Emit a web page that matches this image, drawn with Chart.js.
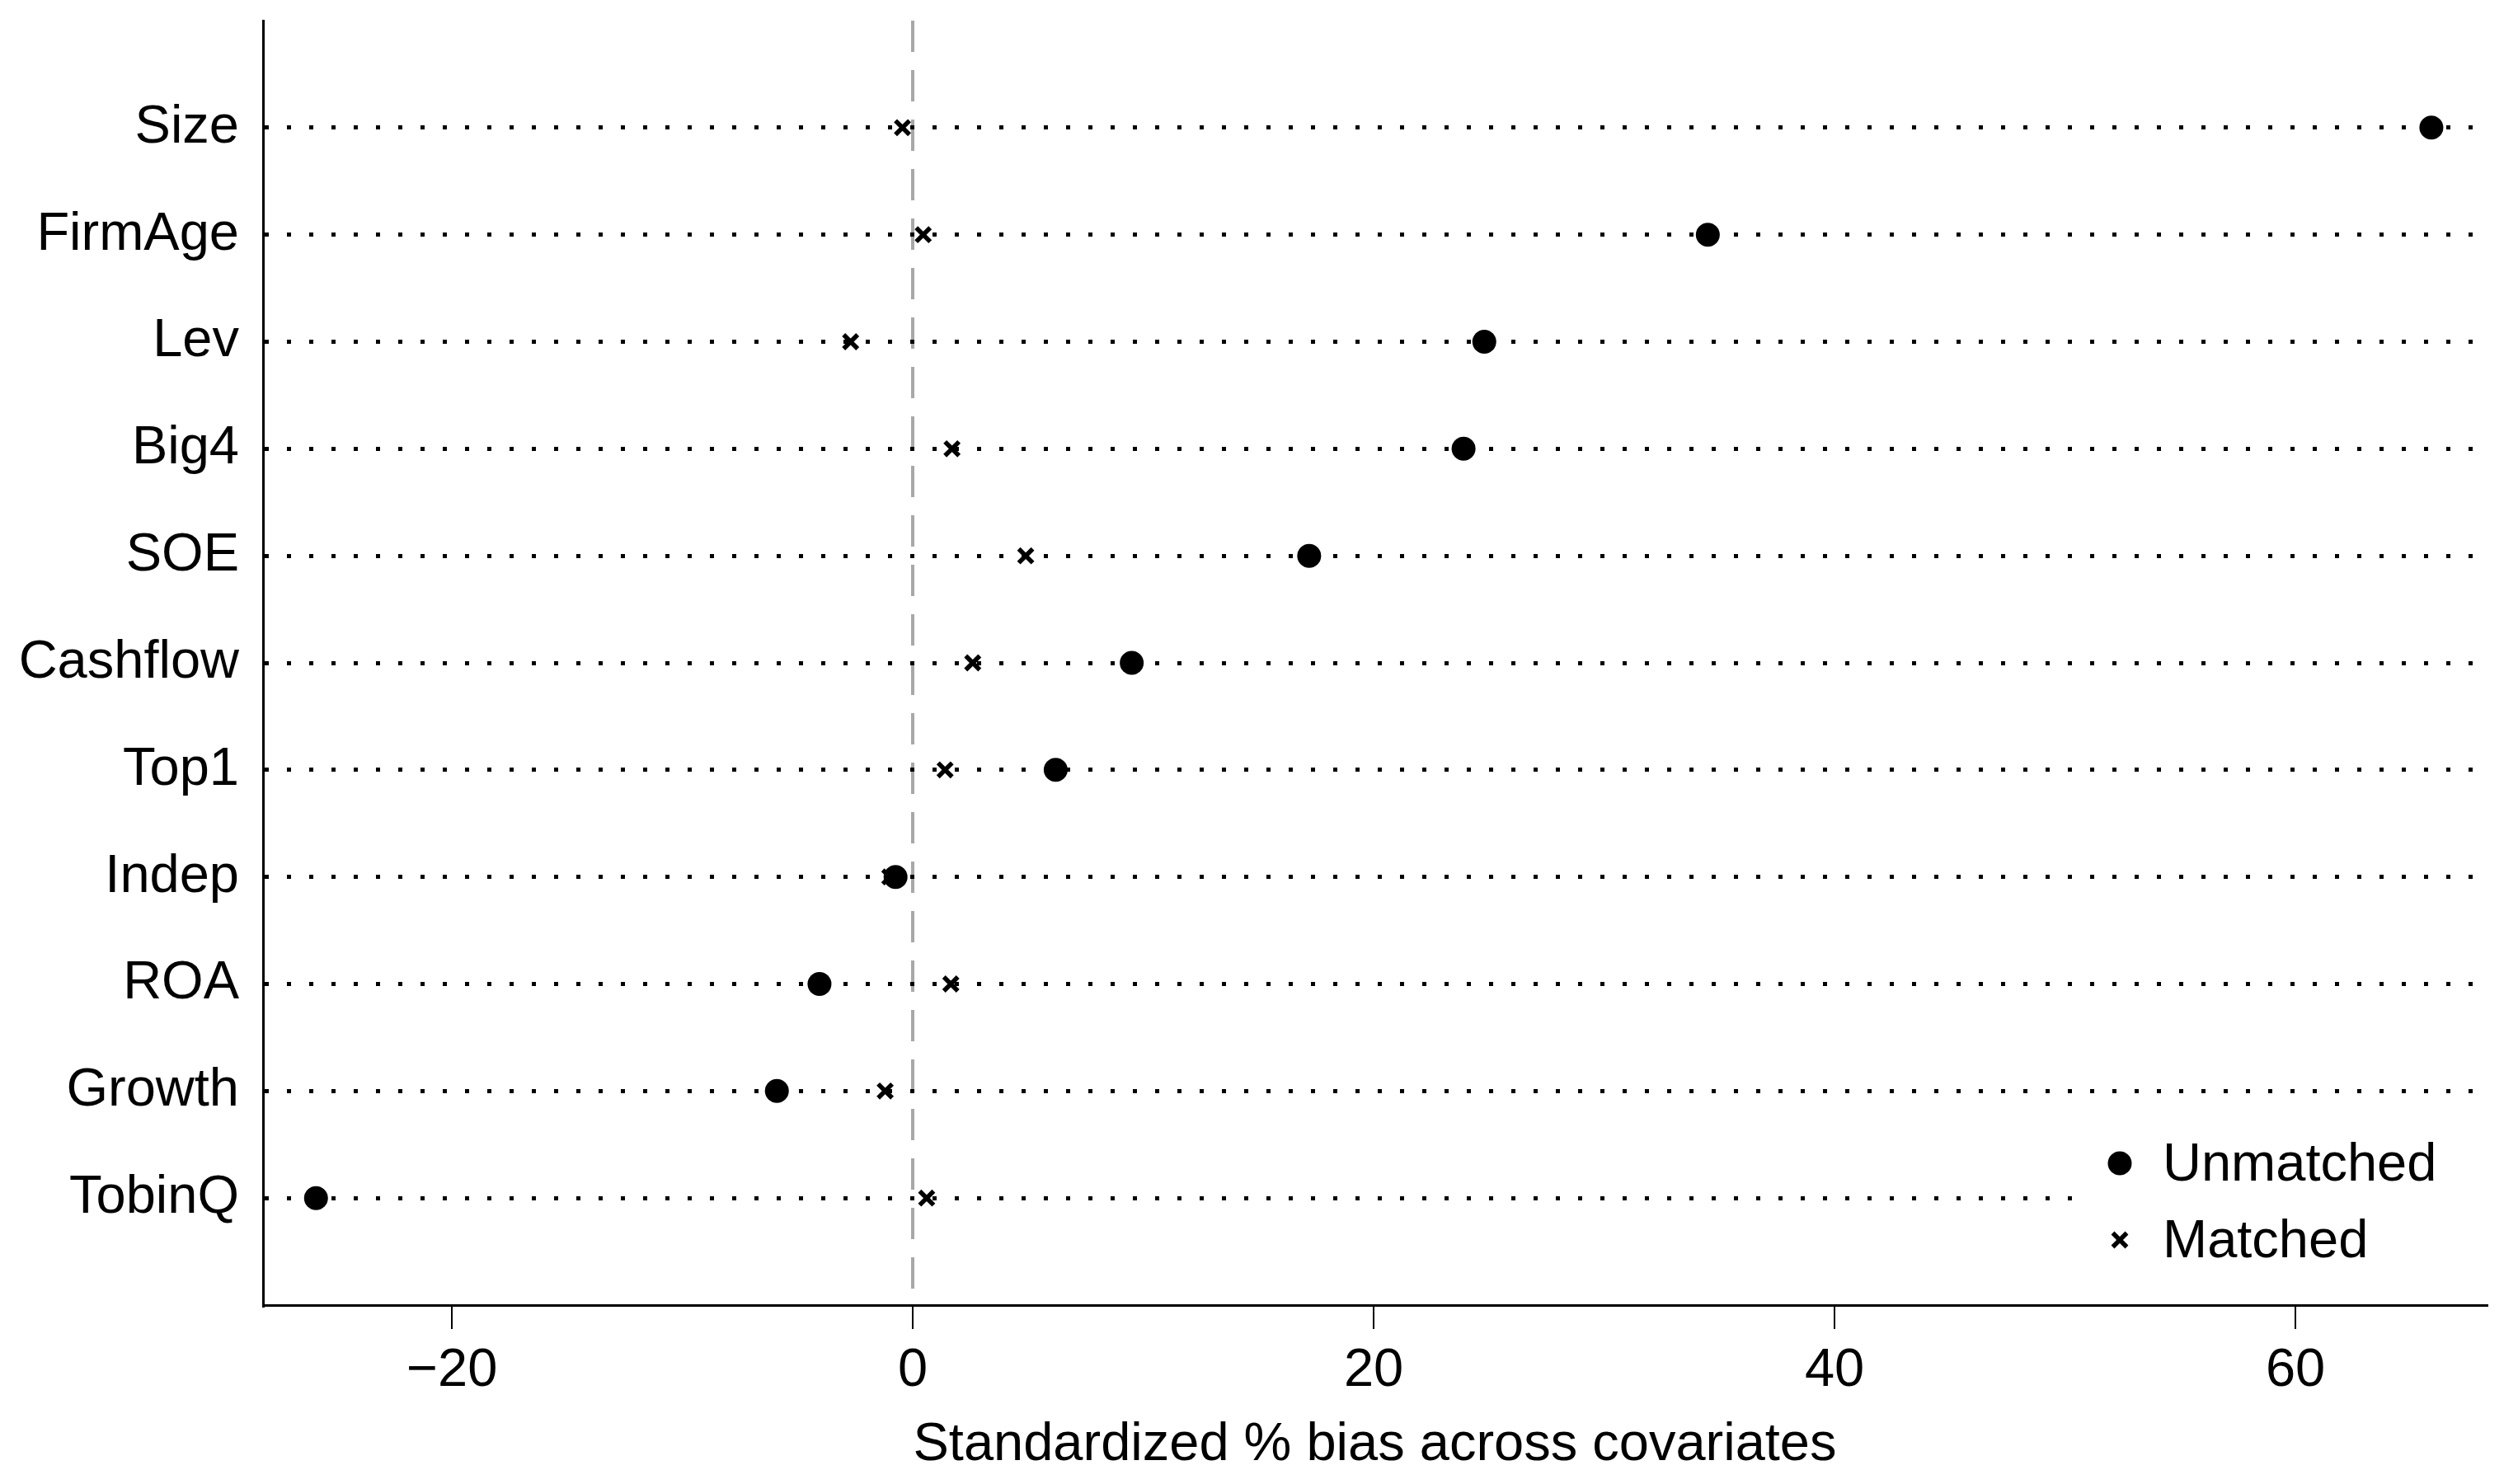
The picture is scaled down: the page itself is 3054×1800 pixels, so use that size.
<!DOCTYPE html>
<html>
<head>
<meta charset="utf-8">
<title>Standardized % bias across covariates</title>
<script src="https://cdn.jsdelivr.net/npm/chart.js"></script>
<style>
body{ margin:0; background:#fff; }
.canvas_div{
    width: 3054px;
    height: 1800px;
}
</style>
</head>
<body>
<div class="canvas_div">
    <canvas id="myChart"></canvas>
</div>
<script>
const covariates = ["Size","FirmAge","Lev","Big4","SOE","Cashflow","Top1","Indep","ROA","Growth","TobinQ"];
const unmatched = [65.9, 34.5, 24.8, 23.9, 17.2, 9.5, 6.2, -0.75, -4.05, -5.9, -25.9];
const matched   = [-0.45, 0.45, -2.7, 1.7, 4.9, 2.6, 1.4, -1.0, 1.65, -1.2, 0.6];
const xTicks = [-20, 0, 20, 40, 60];

const FONT = "'Liberation Sans', Arial, sans-serif";

function toPoints(vals){
    return vals.map(function(v, i){ return {x: v, y: i + 1}; });
}

// legend drawn inside the plot, bottom right
const insideLegend = {
    id: 'insideLegend',
    afterDatasetsDraw: function(chart){
        const ctx = chart.ctx;
        const area = chart.chartArea;
        const left = area.right - 496, top = area.bottom - 238;
        ctx.save();
        ctx.fillStyle = '#fff';
        ctx.fillRect(left, top, 485, 210);
        ctx.font = '65px ' + FONT;
        ctx.textBaseline = 'middle';
        chart.data.datasets.slice().reverse().forEach(function(ds, i){
            const cy = top + 66 + i * 93;
            const cx = left + 51;
            const opts = {pointStyle: ds.pointStyle, radius: ds.pointRadius, borderWidth: ds.borderWidth, rotation: 0};
            ctx.fillStyle = ds.backgroundColor;
            ctx.strokeStyle = ds.borderColor;
            ctx.lineWidth = ds.borderWidth;
            Chart.helpers.drawPoint(ctx, opts, cx, cy);
            ctx.fillStyle = '#000';
            ctx.fillText(ds.label, left + 103, cy + 3);
        });
        ctx.restore();
    }
};

const config = {
    type: 'scatter',
    data: {
        datasets: [
            {
                label: 'Matched',
                data: toPoints(matched),
                pointStyle: 'crossRot',
                pointRadius: 12,
                borderWidth: 5.5,
                borderColor: '#000',
                backgroundColor: '#000'
            },
            {
                label: 'Unmatched',
                data: toPoints(unmatched),
                pointStyle: 'circle',
                pointRadius: 14.5,
                borderWidth: 0,
                borderColor: '#000',
                backgroundColor: '#000'
            }
        ]
    },
    options: {
        responsive: true,
        maintainAspectRatio: false,
        animation: false,
        layout: { padding: { top: 25, right: 38, left: 0, bottom: 0 } },
        plugins: {
            legend: { display: false },
            tooltip: { enabled: false }
        },
        scales: {
            x: {
                type: 'linear',
                min: -28.2,
                max: 68.3,
                afterBuildTicks: function(s){ s.ticks = xTicks.map(function(v){ return {value: v}; }); },
                afterFit: function(s){ s.height = 217; },
                ticks: {
                    color: '#000',
                    padding: 12,
                    font: { family: FONT, size: 65 },
                    maxRotation: 0,
                    callback: function(v){ return v < 0 ? '\u2212' + Math.abs(v) : String(v); }
                },
                grid: {
                    color: function(c){ return c.tick && c.tick.value === 0 ? '#a8a8a8' : 'rgba(0,0,0,0)'; },
                    lineWidth: 4,
                    tickColor: '#000',
                    tickWidth: 2,
                    tickLength: 29
                },
                border: { display: true, color: '#000', width: 3, dash: [38, 22] },
                title: {
                    display: true,
                    text: 'Standardized % bias across covariates',
                    color: '#000',
                    font: { family: FONT, size: 65 },
                    padding: { top: 0, bottom: 8 }
                }
            },
            y: {
                type: 'linear',
                reverse: true,
                min: 0,
                max: 12,
                afterBuildTicks: function(s){
                    s.ticks = covariates.map(function(c, i){ return {value: i + 1}; });
                },
                afterFit: function(s){ s.width = 319; s.paddingTop = 0; s.paddingBottom = 0; },
                ticks: {
                    color: '#000',
                    padding: 29,
                    autoSkip: false,
                    font: { family: FONT, size: 65 },
                    callback: function(v){ return covariates[v - 1] || ''; }
                },
                grid: {
                    color: '#000',
                    lineWidth: 5,
                    drawTicks: false
                },
                border: { display: true, color: '#000', width: 3, dash: [5, 22] }
            }
        }
    },
    plugins: [insideLegend]
};

const myChart = new Chart(document.getElementById('myChart'), config);
</script>
</body>
</html>
